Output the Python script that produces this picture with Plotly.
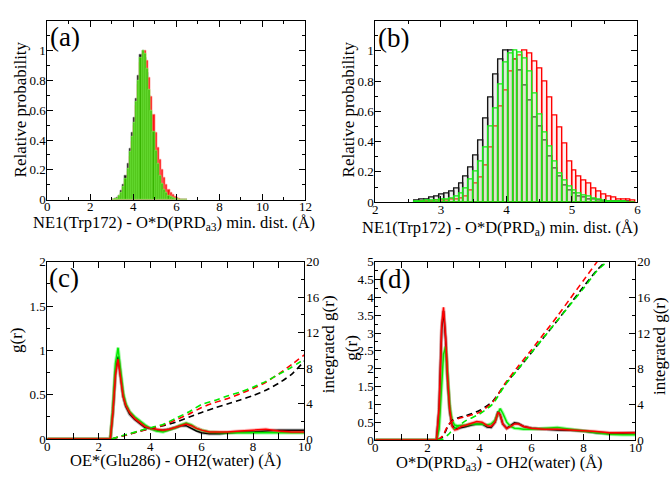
import numpy as np
import plotly.graph_objects as go

W, H = 671, 478
SERIF = "Liberation Serif"

# ---------------- (a) NE1(Trp172) - O*D(PRDa3) histogram ----------------
a_bin_start, a_bin_width = 3.0, 0.1
a_black = [0.003, 0.008, 0.015, 0.03, 0.06, 0.1, 0.16, 0.24, 0.34, 0.45, 0.55, 0.68,
           0.83, 0.97, 1.0, 0.95, 0.85, 0.7, 0.56, 0.42, 0.3, 0.2, 0.13, 0.09, 0.06,
           0.04, 0.025, 0.015, 0.01, 0.006, 0.003, 0.002, 0.001, 0.0, 0.0]
a_red = [0.001, 0.003, 0.007, 0.02, 0.04, 0.075, 0.12, 0.19, 0.29, 0.39, 0.5, 0.63,
         0.77, 0.92, 0.98, 1.0, 0.93, 0.82, 0.69, 0.57, 0.45, 0.35, 0.27, 0.2, 0.15,
         0.1, 0.07, 0.05, 0.035, 0.02, 0.012, 0.007, 0.004, 0.002, 0.001]
a_green = [0.002, 0.005, 0.01, 0.025, 0.05, 0.09, 0.14, 0.21, 0.32, 0.42, 0.52, 0.66,
           0.8, 0.95, 1.0, 0.98, 0.88, 0.74, 0.6, 0.46, 0.33, 0.24, 0.16, 0.11, 0.07,
           0.045, 0.03, 0.02, 0.012, 0.008, 0.005, 0.003, 0.002, 0.001, 0.0]

# ---------------- (b) NE1(Trp172) - O*D(PRDa) histogram ----------------
b_bin_start, b_bin_width = 2.6, 0.075
b_black = [0.01, 0.015, 0.02, 0.03, 0.04, 0.05, 0.06, 0.07, 0.09, 0.12, 0.17, 0.23,
           0.31, 0.41, 0.55, 0.69, 0.84, 0.94, 1.0, 1.0, 0.94, 0.87, 0.77, 0.67, 0.56,
           0.5, 0.41, 0.3, 0.22, 0.17, 0.11, 0.08, 0.055, 0.04, 0.03, 0.02, 0.015, 0.01,
           0.006, 0.004, 0.003, 0.002, 0.001, 0.001, 0.0]
b_red = [0.0, 0.002, 0.004, 0.006, 0.008, 0.01, 0.012, 0.015, 0.02, 0.025, 0.04, 0.075,
         0.12, 0.16, 0.24, 0.36, 0.5, 0.63, 0.74, 0.86, 0.94, 0.97, 1.0, 0.98, 0.93,
         0.88, 0.8, 0.69, 0.57, 0.49, 0.39, 0.27, 0.21, 0.17, 0.14, 0.12, 0.09, 0.07,
         0.05, 0.04, 0.03, 0.02, 0.02, 0.015, 0.01]
b_green = [0.004, 0.006, 0.008, 0.01, 0.012, 0.015, 0.02, 0.025, 0.04, 0.06, 0.09, 0.15,
           0.2, 0.27, 0.36, 0.5, 0.62, 0.78, 0.92, 0.98, 1.0, 0.99, 0.95, 0.86, 0.72,
           0.58, 0.46, 0.37, 0.27, 0.19, 0.14, 0.1, 0.08, 0.06, 0.045, 0.035, 0.025,
           0.015, 0.01, 0.006, 0.004, 0.002, 0.001, 0.0, 0.0]

# ---------------- (c) OE*(Glu286) - OH2(water) g(r) ----------------
c_r = [0, 2.45, 2.55, 2.65, 2.75, 2.85, 2.95, 3.05, 3.2, 3.4, 3.6, 3.8, 4.0, 4.25, 4.5,
       4.75, 5.0, 5.2, 5.4, 5.6, 5.8, 6.0, 6.3, 6.7, 7.0, 7.5, 8.0, 8.5, 9.0, 9.5, 10.0]
c_g_black = [0, 0, 0.3, 0.75, 0.93, 0.7, 0.48, 0.37, 0.28, 0.22, 0.17, 0.13, 0.12, 0.1,
             0.1, 0.11, 0.13, 0.15, 0.15, 0.12, 0.09, 0.07, 0.06, 0.06, 0.07, 0.08, 0.08,
             0.09, 0.1, 0.1, 0.1]
c_g_red = [0, 0, 0.3, 0.72, 0.9, 0.7, 0.48, 0.38, 0.3, 0.23, 0.18, 0.14, 0.12, 0.11, 0.1,
           0.11, 0.13, 0.15, 0.17, 0.15, 0.12, 0.1, 0.08, 0.08, 0.08, 0.09, 0.1, 0.11,
           0.09, 0.08, 0.08]
c_g_green = [0, 0, 0.35, 0.85, 1.03, 0.78, 0.52, 0.4, 0.31, 0.25, 0.2, 0.16, 0.12, 0.09,
             0.08, 0.1, 0.13, 0.16, 0.18, 0.16, 0.12, 0.1, 0.08, 0.07, 0.07, 0.07, 0.07,
             0.07, 0.07, 0.07, 0.07]
c_ri = [2.5, 3.0, 3.5, 4.0, 4.5, 5.0, 5.5, 6.0, 6.5, 7.0, 7.5, 8.0, 8.5, 9.0, 9.5, 10.0]
c_int_black = [0, 0.4, 0.8, 1.2, 1.5, 1.9, 2.45, 3.0, 3.5, 3.95, 4.4, 4.9, 5.5, 6.3, 7.3, 8.8]
c_int_red = [0, 0.4, 0.8, 1.2, 1.55, 2.15, 2.8, 3.55, 4.1, 4.55, 5.1, 5.7, 6.4, 7.35, 8.4, 9.5]
c_int_green = [0, 0.45, 0.85, 1.27, 1.65, 2.35, 3.05, 3.9, 4.35, 4.85, 5.3, 5.85, 6.5, 7.3, 8.1, 9.0]

# ---------------- (d) O*D(PRDa3) - OH2(water) g(r) ----------------
d_r = [0, 2.35, 2.45, 2.55, 2.62, 2.7, 2.78, 2.86, 2.95, 3.05, 3.15, 3.3, 3.5, 3.7, 3.9,
       4.1, 4.3, 4.45, 4.6, 4.72, 4.8, 4.9, 5.05, 5.2, 5.35, 5.5, 5.7, 6.0, 6.5, 7.0, 7.5,
       8.0, 8.5, 9.0, 9.5, 10.0]
d_g_red = [0, 0, 0.9, 3.2, 3.72, 2.9, 1.7, 0.85, 0.38, 0.28, 0.3, 0.38, 0.42, 0.47, 0.52,
           0.5, 0.4, 0.38, 0.5, 0.78, 0.7, 0.45, 0.32, 0.38, 0.45, 0.45, 0.38, 0.33, 0.3,
           0.3, 0.28, 0.28, 0.24, 0.2, 0.2, 0.2]
d_g_black = [0, 0, 0.85, 3.1, 3.62, 2.85, 1.65, 0.8, 0.42, 0.33, 0.32, 0.34, 0.38, 0.42,
             0.45, 0.45, 0.36, 0.35, 0.5, 0.8, 0.7, 0.45, 0.33, 0.4, 0.48, 0.46, 0.38, 0.33,
             0.3, 0.28, 0.27, 0.25, 0.2, 0.18, 0.19, 0.2]
d_g_green = [0, 0, 0.3, 1.6, 2.4, 2.62, 1.8, 0.95, 0.55, 0.42, 0.4, 0.4, 0.42, 0.45, 0.45,
             0.45, 0.42, 0.45, 0.55, 0.78, 0.88, 0.75, 0.5, 0.38, 0.33, 0.32, 0.3, 0.3,
             0.33, 0.35, 0.3, 0.26, 0.22, 0.16, 0.15, 0.15]
d_ri = [2.4, 2.6, 2.8, 3.0, 3.2, 3.5, 4.0, 4.5, 5.0, 5.5, 6.0, 6.5, 7.0, 7.5, 8.0, 8.5,
        9.0, 9.5, 10.0]
d_int_black = [0, 0.4, 1.6, 2.3, 2.5, 2.75, 3.3, 4.3, 6.3, 8.0, 9.8, 11.6, 13.4, 15.3, 17.2,
               19.0, 20.5, 22.5, 24.5]
d_int_red = [0, 0.5, 1.7, 2.2, 2.4, 2.65, 3.1, 4.2, 6.4, 8.3, 10.1, 12.0, 13.9, 15.9, 17.9,
             19.9, 22.0, 24.0, 26.0]
d_int_green = [0, 0.1, 0.6, 1.2, 1.6, 2.2, 2.9, 4.0, 6.2, 8.0, 9.8, 11.6, 13.4, 15.2, 17.0,
               18.9, 20.3, 22.0, 24.0]


def centers(start, width, n):
    return start + width * (np.arange(n) + 0.5)


def px(x):
    return x / W


def py(y):
    return 1 - y / H


fig = go.Figure()

# (a) filled histograms: black, red, then green in front
xa = centers(a_bin_start, a_bin_width, len(a_black))
for vals, fill, edge in [(a_black, "rgb(25,25,25)", "rgb(110,110,110)"),
                         (a_red, "rgb(255,20,20)", "rgb(255,140,140)"),
                         (a_green, "rgb(55,180,0)", "rgb(140,250,90)")]:
    fig.add_trace(go.Bar(x=xa, y=vals, width=a_bin_width, xaxis="x", yaxis="y",
                         marker=dict(color=fill, line=dict(color=edge, width=0.6)),
                         showlegend=False))

# (b) outlined histograms
xb = centers(b_bin_start, b_bin_width, len(b_black))
for vals, fill, edge in [(b_black, "rgba(120,120,120,0.12)", "rgb(20,20,20)"),
                         (b_red, "rgba(255,120,120,0.12)", "rgb(255,0,0)"),
                         (b_green, "rgba(140,255,140,0.22)", "rgb(20,235,20)")]:
    fig.add_trace(go.Bar(x=xb, y=vals, width=b_bin_width, xaxis="x2", yaxis="y2",
                         marker=dict(color=fill, line=dict(color=edge, width=1.4)),
                         showlegend=False))

BLACK, RED, GREEN = "rgb(0,0,0)", "rgb(255,0,0)", "rgb(0,235,0)"


def add_gr(x, y, color, xa_, ya_, halo):
    fig.add_trace(go.Scatter(x=x, y=y, mode="lines", xaxis=xa_, yaxis=ya_,
                             line=dict(color=color, width=3.5), opacity=halo,
                             showlegend=False, hoverinfo="skip"))
    fig.add_trace(go.Scatter(x=x, y=y, mode="lines", xaxis=xa_, yaxis=ya_,
                             line=dict(color=color, width=1.5), showlegend=False))


def add_int(x, y, color, xa_, ya_):
    fig.add_trace(go.Scatter(x=x, y=y, mode="lines", xaxis=xa_, yaxis=ya_,
                             line=dict(color=color, width=1.6, dash="6px,4px",
                                       shape="spline", smoothing=0.6),
                             showlegend=False))


# (c)
add_int(c_ri, c_int_black, BLACK, "x3", "y5")
add_int(c_ri, c_int_red, RED, "x3", "y5")
add_int(c_ri, c_int_green, GREEN, "x3", "y5")
add_gr(c_r, c_g_black, BLACK, "x3", "y3", 0.25)
add_gr(c_r, c_g_green, GREEN, "x3", "y3", 0.35)
add_gr(c_r, c_g_red, RED, "x3", "y3", 0.25)

# (d)
add_int(d_ri, d_int_black, BLACK, "x4", "y6")
add_int(d_ri, d_int_red, RED, "x4", "y6")
add_int(d_ri, d_int_green, GREEN, "x4", "y6")
add_gr(d_r, d_g_black, BLACK, "x4", "y4", 0.25)
add_gr(d_r, d_g_green, GREEN, "x4", "y4", 0.35)
add_gr(d_r, d_g_red, RED, "x4", "y4", 0.25)

tickfont = dict(family=SERIF, size=13, color="black")


def axis(domain, rng, dtick, minor, anchor, mirror="allticks", standoff=-2, **kw):
    d = dict(domain=domain, range=rng, dtick=dtick, tick0=0, anchor=anchor,
             showline=True, linecolor="black", linewidth=1.2, mirror=mirror,
             ticks="inside", ticklen=6, tickwidth=1, tickcolor="black",
             tickfont=tickfont, showgrid=False, zeroline=False,
             ticklabelstandoff=standoff,
             minor=dict(ticks="inside", ticklen=3, tickcolor="black", dtick=minor,
                        tick0=0, showgrid=False))
    d.update(kw)
    return d


prob_ticks = dict(tickmode="array", tickvals=[0, 0.2, 0.4, 0.6, 0.8, 1.0],
                  ticktext=["0", "0.2", "0.4", "0.6", "0.8", "1"])

fig.update_layout(
    width=W, height=H, margin=dict(l=0, r=0, t=0, b=0),
    paper_bgcolor="white", plot_bgcolor="white",
    barmode="overlay", bargap=0,
    xaxis=axis([px(45), px(307)], [0, 12], 2, 1, "y", standoff=-5),
    yaxis=axis([py(199), py(14)], [0, 1.2], 0.2, 0.1, "x", **prob_ticks),
    xaxis2=axis([px(378), px(644)], [2, 6], 1, 0.5, "y2", standoff=-5),
    yaxis2=axis([py(201.5), py(14)], [0, 1.2], 0.2, 0.1, "x2", **prob_ticks),
    xaxis3=axis([px(45), px(306)], [0, 10], 2, 1, "y3", standoff=-5),
    yaxis3=axis([py(446), py(263)], [0, 2], 0.5, 0.25, "x3", mirror=False),
    yaxis5=axis([py(446), py(263)], [0, 20], 4, 2, "x3", mirror=False,
                overlaying="y3", side="right"),
    xaxis4=axis([px(378), px(642)], [0, 10], 2, 1, "y4", standoff=-5),
    yaxis4=axis([py(447), py(263)], [0, 5], 0.5, 0.25, "x4", mirror=False),
    yaxis6=axis([py(447), py(263)], [0, 20], 4, 2, "x4", mirror=False,
                overlaying="y4", side="right"),
)

ann = []


def label(text, x, y, size, angle=0):
    ann.append(dict(text=text, x=px(x), y=py(y), xref="paper", yref="paper",
                    showarrow=False, textangle=angle, xanchor="center", yanchor="middle",
                    borderpad=0,
                    font=dict(family=SERIF, size=size, color="black")))


label("(a)", 63, 31, 27)
label("(b)", 396, 32, 27)
label("(c)", 62, 280, 27)
label("(d)", 397, 281, 27)
label("Relative probability", 18, 106, 17, -90)
label("Relative probability", 351, 106, 17, -90)
label("NE1(Trp172) - O*D(PRD<sub>a3</sub>) min. dist. (Å)", 174, 223, 16.5)
label("NE1(Trp172) - O*D(PRD<sub>a</sub>) min. dist. (Å)", 505, 228, 16.5)
label("g(r)", 13, 344, 17, -90)
label("integrated g(r)", 330, 348, 17, -90)
label("OE*(Glu286) - OH2(water) (Å)", 175, 468, 16.5)
label("g(r)", 354, 352, 17, -90)
label("integrated g(r)", 666, 350, 17, -90)
label("O*D(PRD<sub>a3</sub>) - OH2(water) (Å)", 504, 471, 16.5)
fig.update_layout(annotations=ann)

fig.write_html("out.html")
